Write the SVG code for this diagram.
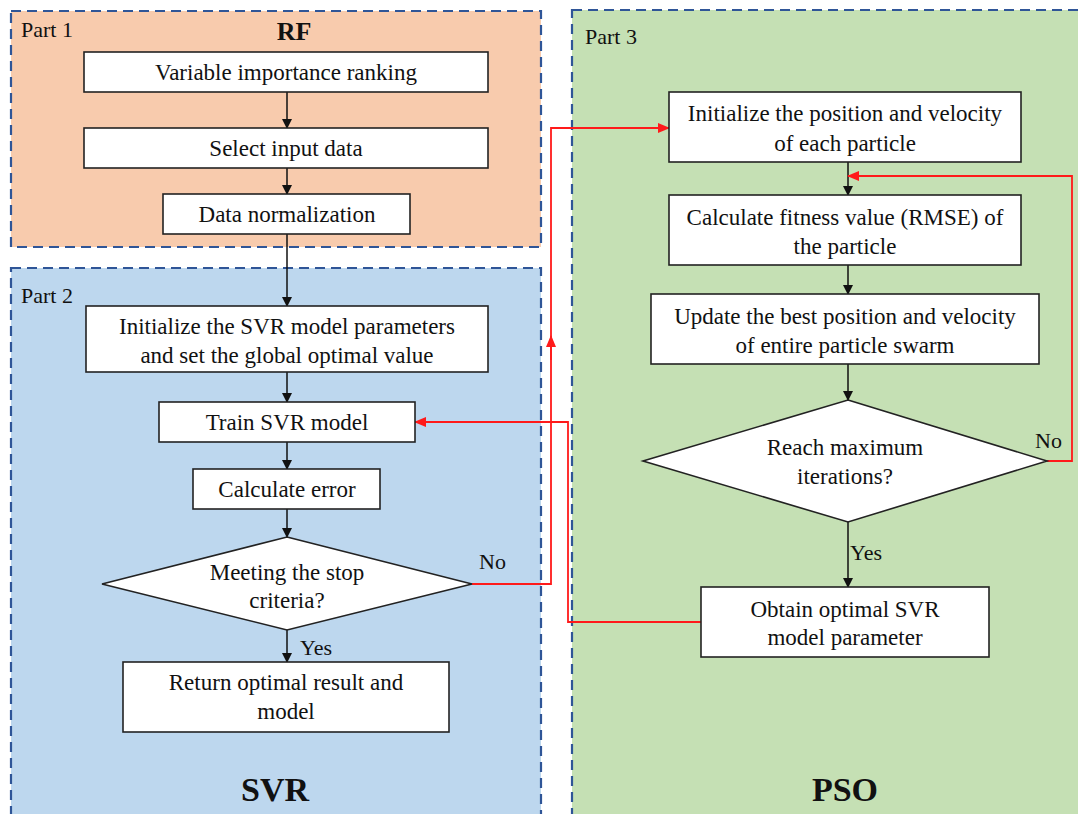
<svg xmlns="http://www.w3.org/2000/svg" width="1078" height="814" viewBox="0 0 1078 814">
<style>
.part{stroke:#2f5597;stroke-width:2.2;stroke-dasharray:10,6}
.box{fill:#fff;stroke:#222;stroke-width:1.6}
.t{font-family:"Liberation Serif","Times New Roman",serif;font-size:23px;fill:#111;text-anchor:middle}
.pl{font-family:"Liberation Serif","Times New Roman",serif;font-size:22px;fill:#111}
.title{font-family:"Liberation Serif","Times New Roman",serif;font-weight:bold;fill:#111;text-anchor:middle}
.blk{fill:none;stroke:#111;stroke-width:1.5}
.red{fill:none;stroke:#ff1a1a;stroke-width:1.8}
</style>
<defs>
<marker id="ab" markerWidth="10" markerHeight="10" refX="9" refY="5" orient="auto" markerUnits="userSpaceOnUse"><path d="M0,0 L10,5 L0,10 z" fill="#111"/></marker>
<marker id="ar" markerWidth="12" markerHeight="10" refX="11" refY="5" orient="auto" markerUnits="userSpaceOnUse"><path d="M0,0 L12,5 L0,10 z" fill="#ff1a1a"/></marker>
</defs>
<rect width="1078" height="814" fill="#fff"/>
<g id="part1">
<rect class="part" x="11" y="11" width="530" height="236" fill="#f8cbad"/>
<text class="pl" x="21" y="37">Part 1</text>
<text class="title" x="294" y="40" font-size="26">RF</text>
</g>
<g id="part2">
<rect class="part" x="11" y="268" width="530" height="560" fill="#bdd7ee"/>
<text class="pl" x="21" y="303">Part 2</text>
<text class="title" x="275" y="801" font-size="34">SVR</text>
</g>
<g id="part3">
<rect class="part" x="572" y="10" width="520" height="820" fill="#c5e0b4"/>
<text class="pl" x="585" y="44">Part 3</text>
<text class="title" x="845" y="801" font-size="34">PSO</text>
</g>
<g id="connectors">
<path class="blk" d="M287,92 V128" marker-end="url(#ab)"/>
<path class="blk" d="M287,168 V194" marker-end="url(#ab)"/>
<path class="blk" d="M287,234 V306" marker-end="url(#ab)"/>
<path class="blk" d="M287,372 V402" marker-end="url(#ab)"/>
<path class="blk" d="M287,442 V469" marker-end="url(#ab)"/>
<path class="blk" d="M287,509 V537" marker-end="url(#ab)"/>
<path class="blk" d="M287,630 V662" marker-end="url(#ab)"/>
<path class="blk" d="M848,162 V195" marker-end="url(#ab)"/>
<path class="blk" d="M848,265 V294" marker-end="url(#ab)"/>
<path class="blk" d="M848,364 V400" marker-end="url(#ab)"/>
<path class="blk" d="M848,522 V587" marker-end="url(#ab)"/>
<path class="red" d="M472,584 H551 V128 H669" marker-end="url(#ar)"/>
<path class="red" d="M551,360 V336" marker-end="url(#ar)"/>
<path class="red" d="M701,622 H568 V422 H415" marker-end="url(#ar)"/>
<path class="red" d="M1047,461 H1072 V176 H848" marker-end="url(#ar)"/>
<text class="pl" x="479" y="569">No</text>
<text class="pl" x="300" y="655">Yes</text>
<text class="pl" x="1035" y="448">No</text>
<text class="pl" x="850" y="560">Yes</text>
</g>
<g id="n1"><rect class="box" x="84" y="52" width="404" height="40"/><text class="t" x="286" y="80">Variable importance ranking</text></g>
<g id="n2"><rect class="box" x="84" y="128" width="404" height="40"/><text class="t" x="286" y="156">Select input data</text></g>
<g id="n3"><rect class="box" x="163" y="194" width="247" height="40"/><text class="t" x="287" y="222">Data normalization</text></g>
<g id="n4"><rect class="box" x="86" y="306" width="402" height="66"/><text class="t" x="287" y="334">Initialize the SVR model parameters</text><text class="t" x="287" y="363">and set the global optimal value</text></g>
<g id="n5"><rect class="box" x="159" y="402" width="256" height="40"/><text class="t" x="287" y="430">Train SVR model</text></g>
<g id="n6"><rect class="box" x="193" y="469" width="187" height="40"/><text class="t" x="287" y="497">Calculate error</text></g>
<g id="d1"><polygon class="box" points="287,537 472,584 287,630 102,584"/><text class="t" x="287" y="580">Meeting the stop</text><text class="t" x="287" y="608">criteria?</text></g>
<g id="n7"><rect class="box" x="123" y="662" width="326" height="70"/><text class="t" x="286" y="690">Return optimal result and</text><text class="t" x="286" y="719">model</text></g>
<g id="n8"><rect class="box" x="669" y="92" width="352" height="70"/><text class="t" x="845" y="121">Initialize the position and velocity</text><text class="t" x="845" y="151">of each particle</text></g>
<g id="n9"><rect class="box" x="669" y="195" width="352" height="70"/><text class="t" x="845" y="225">Calculate fitness value (RMSE) of</text><text class="t" x="845" y="254">the particle</text></g>
<g id="n10"><rect class="box" x="651" y="294" width="388" height="70"/><text class="t" x="845" y="324">Update the best position and velocity</text><text class="t" x="845" y="353">of entire particle swarm</text></g>
<g id="d2"><polygon class="box" points="848,400 1047,461 848,522 643,461"/><text class="t" x="845" y="455">Reach maximum</text><text class="t" x="845" y="484">iterations?</text></g>
<g id="n11"><rect class="box" x="701" y="587" width="288" height="70"/><text class="t" x="845" y="617">Obtain optimal SVR</text><text class="t" x="845" y="645">model parameter</text></g>
</svg>
